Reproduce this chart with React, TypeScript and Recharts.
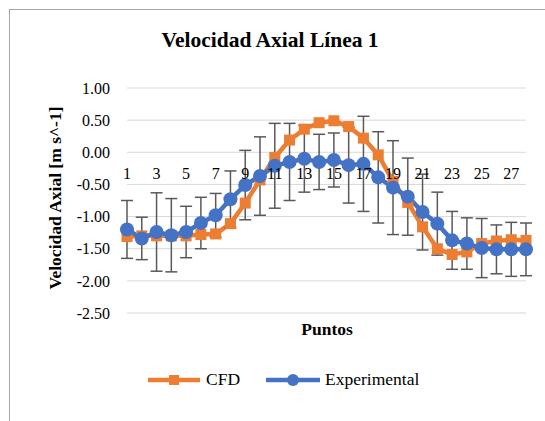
import { LineChart, Line, XAxis, YAxis, CartesianGrid, ErrorBar } from 'recharts';

const puntos = [1, 2, 3, 4, 5, 6, 7, 8, 9, 10, 11, 12, 13, 14, 15, 16, 17, 18, 19, 20, 21, 22, 23, 24, 25, 26, 27, 28];
const cfd = [-1.31, -1.3, -1.3, -1.3, -1.3, -1.28, -1.27, -1.11, -0.79, -0.43, -0.08, 0.19, 0.36, 0.46, 0.49, 0.4, 0.22, -0.04, -0.45, -0.78, -1.16, -1.5, -1.59, -1.55, -1.42, -1.38, -1.36, -1.37];
const experimental = [-1.2, -1.34, -1.24, -1.29, -1.24, -1.1, -0.98, -0.73, -0.51, -0.37, -0.21, -0.15, -0.1, -0.15, -0.12, -0.2, -0.18, -0.39, -0.55, -0.69, -0.93, -1.11, -1.37, -1.42, -1.49, -1.51, -1.51, -1.51];
const errores = [0.45, 0.33, 0.61, 0.57, 0.4, 0.4, 0.34, 0.44, 0.54, 0.61, 0.66, 0.6, 0.52, 0.43, 0.42, 0.59, 0.74, 0.71, 0.73, 0.6, 0.59, 0.49, 0.45, 0.4, 0.46, 0.38, 0.42, 0.41];
const yTicks = [1, 0.5, 0, -0.5, -1, -1.5, -2, -2.5];

const data = puntos.map((p, i) => ({ p, cfd: cfd[i], exp: experimental[i], err: errores[i] }));

const FONT = "'Liberation Serif', Tinos, 'Times New Roman', Times, 'Nimbus Roman', FreeSerif, 'Noto Serif', 'DejaVu Serif', serif";
const ORANGE = '#ED7D31';
const BLUE = '#4472C4';
const TOP = 88;
const PLOT_H = 225;
const zeroY = TOP + (PLOT_H * (1 - 0)) / 3.5;

const XTick = ({ x, payload }: any) => (
  <text x={x} y={zeroY + 27} textAnchor="middle" fontFamily={FONT} fontSize={16} fill="#000">
    {payload.value}
  </text>
);

const SquareDot = ({ cx, cy, index }: any) => (
  <rect key={`sq-${index}`} x={cx - 5.5} y={cy - 5.5} width={11} height={11} fill={ORANGE} />
);

export default function App() {
  return (
    <div style={{ position: 'absolute', left: 0, top: 0, width: 545, height: 421, fontFamily: FONT, background: '#fff' }}>
      <div style={{ position: 'absolute', left: 9, top: 9, width: 540, height: 420, borderLeft: '1px solid #a6a6a6', borderTop: '1px solid #a6a6a6' }} />
      <div style={{ position: 'absolute', left: 270, top: 40, transform: 'translate(-50%, -50%)', fontSize: 21.5, fontWeight: 'bold', whiteSpace: 'nowrap' }}>
        Velocidad Axial Línea 1
      </div>
      <LineChart width={545} height={421} data={data} margin={{ top: TOP, right: 19, bottom: 0, left: 0 }}>
        <CartesianGrid vertical={false} stroke="#d9d9d9" strokeWidth={1} />
        <XAxis dataKey="p" interval={1} axisLine={false} tickLine={false} height={421 - TOP - PLOT_H} tick={<XTick />} />
        <YAxis
          width={127}
          domain={[-2.5, 1]}
          ticks={yTicks}
          axisLine={false}
          tickLine={false}
          tickSize={0}
          tickMargin={17}
          tickFormatter={(v: number) => v.toFixed(2)}
          tick={{ fontFamily: FONT, fontSize: 16, fill: '#000' }}
        />
        <Line dataKey="cfd" stroke={ORANGE} strokeWidth={4.5} dot={<SquareDot />} activeDot={false} isAnimationActive={false} />
        <Line dataKey="exp" stroke={BLUE} strokeWidth={4.5} dot={{ r: 7, fill: BLUE, stroke: BLUE, strokeWidth: 0 }} activeDot={false} isAnimationActive={false}>
          <ErrorBar dataKey="err" width={6} strokeWidth={1.5} stroke="#595959" isAnimationActive={false} />
        </Line>
      </LineChart>
      <div style={{ position: 'absolute', left: 55, top: 198, transform: 'translate(-50%, -50%) rotate(-90deg)', fontSize: 17.5, fontWeight: 'bold', whiteSpace: 'nowrap' }}>
        Velocidad Axial [m s^-1]
      </div>
      <div style={{ position: 'absolute', left: 327, top: 329, transform: 'translate(-50%, -50%)', fontSize: 17.5, fontWeight: 'bold', whiteSpace: 'nowrap' }}>
        Puntos
      </div>
      <div style={{ position: 'absolute', left: 146, top: 369, display: 'flex', alignItems: 'center', fontSize: 17.5, whiteSpace: 'nowrap' }}>
        <svg width={56} height={20}>
          <line x1={2} y1={10} x2={54} y2={10} stroke={ORANGE} strokeWidth={4.5} />
          <rect x={23} y={5} width={10} height={10} fill={ORANGE} />
        </svg>
        <span style={{ marginLeft: 4, marginRight: 24 }}>CFD</span>
        <svg width={58} height={20}>
          <line x1={2} y1={10} x2={56} y2={10} stroke={BLUE} strokeWidth={4.5} />
          <circle cx={29} cy={10} r={6} fill={BLUE} />
        </svg>
        <span style={{ marginLeft: 3 }}>Experimental</span>
      </div>
    </div>
  );
}
